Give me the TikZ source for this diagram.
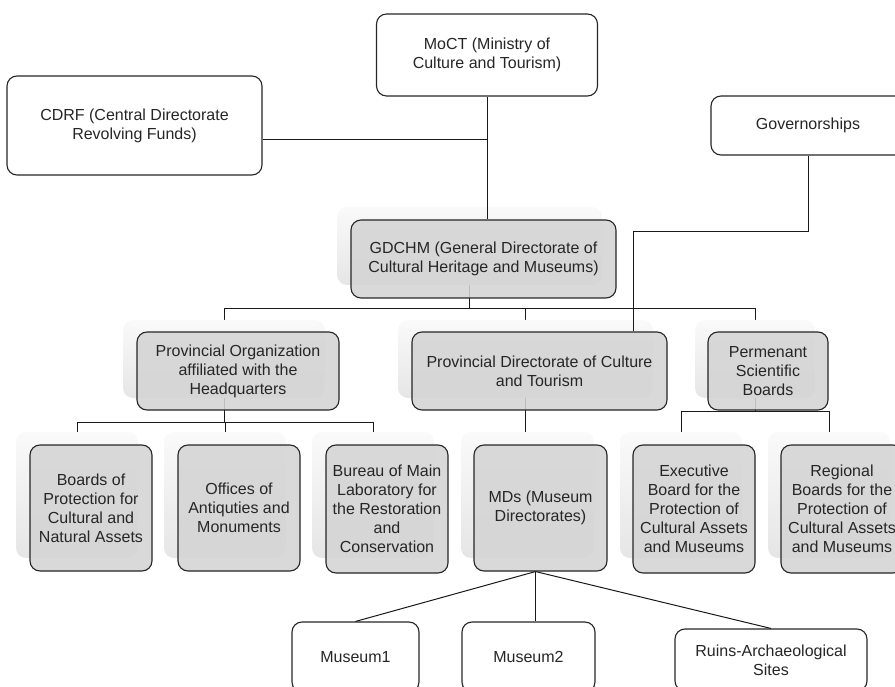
\documentclass[tikz,border=0pt]{standalone}
\usepackage{fontspec}
\setmainfont{Liberation Sans}
\usetikzlibrary{calc,backgrounds}
\tikzset{
  dims/.style 2 args={minimum width=#1pt, minimum height=#2pt},
  box/.style={draw=black!85, line width=1.1pt, rounded corners=10pt, fill=white,
    align=center, inner sep=0pt, text=black!85,
    font=\fontsize{16}{19}\selectfont},
  ghost/.style={rounded corners=10pt, top color=black!2, bottom color=black!10,
    draw=none, inner sep=0pt},
  unit/.style={box, fill=black!17, fill opacity=0.88, text opacity=1},
  link/.style={draw=black!90, line width=1pt},
}
\begin{document}
\begin{tikzpicture}[x=1pt,y=-1pt]
\useasboundingbox (0,0) rectangle (895,687);
% top level
\node[box, dims={221}{82}] (moct) at (487,55) {MoCT (Ministry of\\Culture and Tourism)};
\node[box, dims={255}{99}] (cdrf) at (134.5,125.5) {CDRF (Central Directorate\\Revolving Funds)};
\node[box, dims={194}{59}] (gov) at (808,125.5) {Governorships};

% general directorate
\node[ghost, dims={265}{78}] (gdchm) at (469.5,246) {};
\node[unit, dims={265}{78}] (gdchmT) at ([shift={(14,13)}]gdchm.center) {GDCHM (General Directorate of\\Cultural Heritage and Museums)};

% second level
\node[ghost, dims={202}{78}] (org) at (224,359) {};
\node[ghost, dims={255}{78}] (pdir) at (525.5,359) {};
\node[ghost, dims={120}{78}] (perm) at (755,359) {};
\node[unit, dims={202}{78}] (orgT) at ([shift={(14,12)}]org.center) {Provincial Organization\\affiliated with the\\Headquarters};
\node[unit, dims={255}{78}] (pdirT) at ([shift={(14,12)}]pdir.center) {Provincial Directorate of Culture\\and Tourism};
\node[unit, dims={120}{78}] (permT) at ([shift={(13,12)}]perm.center) {Permenant\\Scientific\\Boards};

% third level
\node[ghost, dims={122}{126}] (boards) at (77,495) {};
\node[ghost, dims={122}{126}] (offices) at (225,495) {};
\node[ghost, dims={122}{126}] (bureau) at (373,495) {};
\node[ghost, dims={133}{126}] (mds) at (527.5,495) {};
\node[ghost, dims={122}{126}] (exec) at (681,495) {};
\node[ghost, dims={122}{126}] (regional) at (829,495) {};
\node[unit, dims={122}{126}] (boardsT) at ([shift={(14,13)}]boards.center) {Boards of\\Protection for\\Cultural and\\Natural Assets};
\node[unit, dims={122}{126}] (officesT) at ([shift={(14,13)}]offices.center) {Offices of\\Antiquties and\\Monuments};
\node[unit, dims={122}{128}] (bureauT) at ([shift={(14,14)}]bureau.center) {Bureau of Main\\Laboratory for\\the Restoration\\and\\Conservation};
\node[unit, dims={133}{126}] (mdsT) at ([shift={(13,13)}]mds.center) {MDs (Museum\\Directorates)};
\node[unit, dims={122}{128}] (execT) at ([shift={(13,14)}]exec.center) {Executive\\Board for the\\Protection of\\Cultural Assets\\and Museums};
\node[unit, dims={122}{128}] (regionalT) at ([shift={(13,14)}]regional.center) {Regional\\Boards for the\\Protection of\\Cultural Assets\\and Museums};

% museums
\node[box, dims={127}{70}] (museum1) at (355.5,657) {Museum1};
\node[box, dims={133}{70}] (museum2) at (528.5,657) {Museum2};
\node[box, dims={192}{62}] (ruins) at (771,660) {Ruins-Archaeological\\Sites};

% connectors
\coordinate (j1) at (487,140);
\coordinate (j2) at (633,232);
\coordinate (j3) at ([xshift=-5]mdsT.south);
\draw[link] (cdrf.east |- j1) -- (j1);
\draw[link] (moct.south) -- (moct.south |- gdchmT.north);
\draw[link] (gov.south) |- (j2) -- (j2 |- pdirT.north);
\begin{scope}[on background layer]
\draw[link] (gdchm.south) -- ++(0,23) coordinate (b1);
\draw[link] (org.north) |- (b1) -| (perm.north);
\draw[link] (pdir.north) -- (pdir.north |- b1);
\draw[link] (org.south) -- ++(0,24) coordinate (b2);
\draw[link] (boards.north) |- (b2) -| (bureau.north);
\draw[link] (offices.north) -- (offices.north |- b2);
\draw[link] (pdir.south) -- (pdir.south |- mds.north);
\draw[link] (perm.south) -- ++(0,13) coordinate (b3);
\draw[link] (exec.north) |- (b3) -| (regional.north);
\end{scope}
\draw[link] (j3) -- (museum1.north);
\draw[link] (j3) -- (j3 |- museum2.north);
\draw[link] (j3) -- (ruins.north);
\end{tikzpicture}
\end{document}
